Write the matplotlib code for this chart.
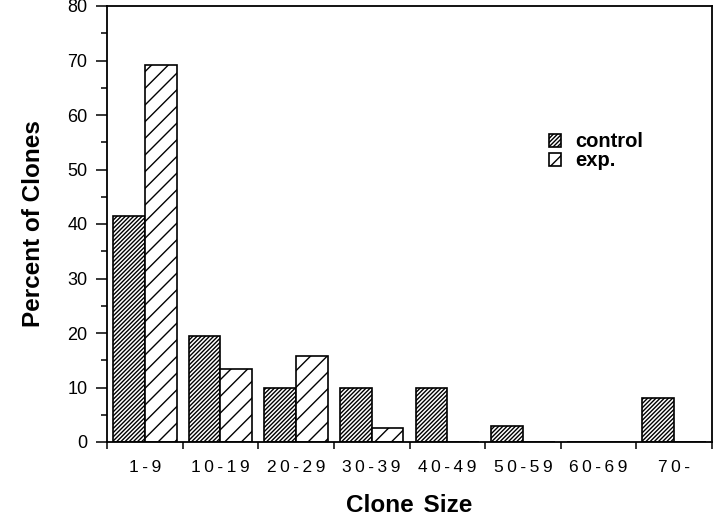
import matplotlib
matplotlib.use("Agg")
import matplotlib.pyplot as plt
import numpy as np
from matplotlib.ticker import MultipleLocator, FixedLocator

categories = ["1-9", "10-19", "20-29", "30-39", "40-49", "50-59", "60-69", "70-"]
control = [41.5, 19.5, 10.0, 10.0, 10.0, 3.0, 0.0, 8.0]
exp = [69.2, 13.4, 15.8, 2.5, 0.0, 0.0, 0.0, 0.0]
series_names = ["control", "exp."]

plt.rcParams['font.family'] = ['Liberation Sans', 'DejaVu Sans']
plt.rcParams['hatch.linewidth'] = 1.0

fig = plt.figure(figsize=(7.2, 5.2), dpi=100)
ax = fig.add_axes([107/720, 1 - 442/520, 605/720, 436/520])

x = np.arange(len(categories))
w = 0.42
b1 = ax.bar(x + 0.08, control, width=w, align='edge', color='white',
            edgecolor='black', linewidth=1.2, hatch='////////', label=series_names[0])
b2 = ax.bar(x + 0.08 + w, exp, width=w, align='edge', color='white',
            edgecolor='black', linewidth=1.2, hatch='//', label=series_names[1])

ax.set_xlim(0, len(categories))
ax.set_ylim(0, 80)

ax.yaxis.set_major_locator(MultipleLocator(10))
ax.yaxis.set_minor_locator(MultipleLocator(5))
ax.tick_params(axis='y', which='major', length=8, width=1.1, direction='out',
               labelsize=13, pad=6)
ax.tick_params(axis='y', which='minor', length=4, width=1.1, direction='out')

ax.xaxis.set_major_locator(FixedLocator(np.arange(0, len(categories) + 1)))
ax.xaxis.set_major_formatter(plt.NullFormatter())
ax.xaxis.set_minor_locator(FixedLocator(x + 0.5))
ax.set_xticklabels(["\u2009".join(c) for c in categories], minor=True)
ax.tick_params(axis='x', which='major', length=5, width=1.1, direction='out')
ax.tick_params(axis='x', which='minor', length=0, labelsize=12.5, pad=13)

for s in ax.spines.values():
    s.set_linewidth(1.3)

ax.set_ylabel("Percent of Clones", fontsize=17.5, fontweight='bold', labelpad=16)
ax.set_xlabel("Clone\u2009\u2009Size", fontsize=17.5, fontweight='bold', labelpad=14)

ax.legend(loc='upper left', bbox_to_anchor=(0.73, 0.71), frameon=False,
          prop={'size': 14.5, 'weight': 'semibold'}, handlelength=0.6, handleheight=0.6,
          handletextpad=0.7, labelspacing=0.0, borderpad=0, borderaxespad=0)

fig.savefig("out.png", dpi=100)
